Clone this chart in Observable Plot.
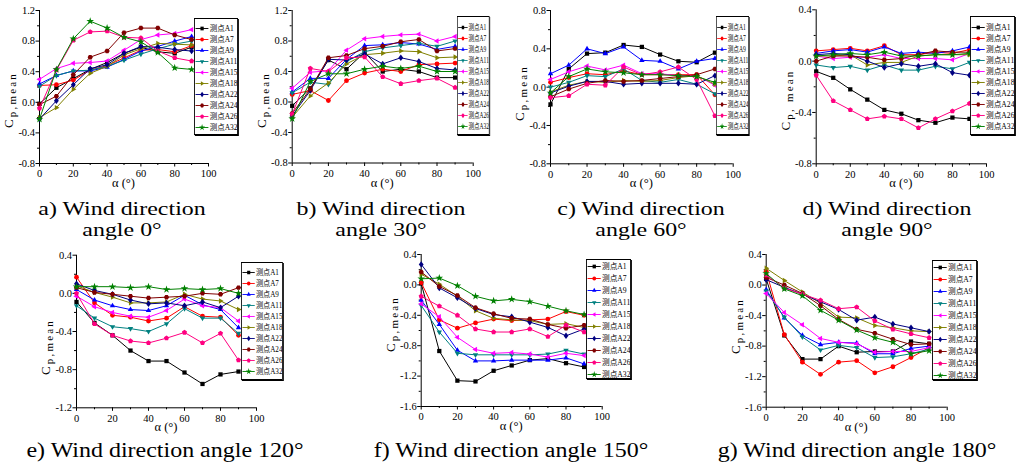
<!DOCTYPE html>
<html><head><meta charset="utf-8">
<script src="https://cdn.jsdelivr.net/npm/d3@7"></script>
<script src="https://cdn.jsdelivr.net/npm/@observablehq/plot@0.6"></script>
<style>
html,body{margin:0;padding:0;background:#fff;}
#root{position:relative;width:1019px;height:466px;overflow:hidden;background:#fff;}
.pane{position:absolute;}
.pane svg{display:block;overflow:visible;}
.lg{position:absolute;box-sizing:border-box;width:50px;border:1px solid #000;background:#fff;box-shadow:1px 1px 0 #000;transform-origin:0 0;}
.lg svg{display:block;}
#caps{position:absolute;left:0;top:0;}
</style></head><body><div id="root"></div>
<script>
// ---------- data ----------
const alpha = [0, 10, 20, 30, 40, 50, 60, 70, 80, 90];
const series = ["测点A1","测点A7","测点A9","测点A11","测点A15","测点A18","测点A22","测点A24","测点A26","测点A32"];
const colors = ["#000000","#ff0000","#0000ff","#008080","#ff00ff","#808000","#000080","#800000","#ff0080","#008000"];

// rows follow the order of `series`; columns follow `alpha`
const dir0 = [
  [-0.02,0.19,0.31,0.43,0.52,0.64,0.72,0.66,0.64,0.72],
  [0.22,0.23,0.29,0.42,0.48,0.58,0.68,0.69,0.66,0.74],
  [0.24,0.35,0.41,0.41,0.46,0.56,0.67,0.73,0.80,0.86],
  [0.21,0.35,0.41,0.42,0.47,0.55,0.63,0.70,0.76,0.80],
  [0.30,0.44,0.51,0.52,0.54,0.68,0.82,0.88,0.90,0.95],
  [-0.20,-0.07,0.17,0.38,0.47,0.62,0.70,0.77,0.76,0.75],
  [-0.22,0.02,0.23,0.44,0.49,0.64,0.73,0.72,0.69,0.67],
  [-0.03,0.08,0.36,0.59,0.67,0.91,0.97,0.97,0.88,0.82],
  [-0.08,0.42,0.81,0.92,0.93,0.85,0.84,0.67,0.58,0.54],
  [-0.22,0.43,0.83,1.06,0.97,0.85,0.79,0.65,0.45,0.43]
];
const dir30 = [
  [-0.05,0.18,0.55,0.43,0.65,0.40,0.43,0.40,0.32,0.32],
  [0.10,0.15,0.02,0.28,0.38,0.43,0.40,0.49,0.50,0.51],
  [0.13,0.31,0.31,0.56,0.74,0.75,0.78,0.76,0.69,0.73],
  [0.12,0.26,0.23,0.53,0.66,0.71,0.74,0.77,0.73,0.80],
  [0.18,0.39,0.41,0.68,0.83,0.86,0.88,0.89,0.80,0.86],
  [-0.20,0.08,0.25,0.50,0.62,0.64,0.67,0.66,0.58,0.59],
  [-0.18,0.15,0.56,0.55,0.63,0.50,0.58,0.53,0.44,0.42],
  [-0.15,0.17,0.58,0.61,0.70,0.73,0.79,0.82,0.67,0.70],
  [-0.16,0.44,0.40,0.58,0.59,0.33,0.24,0.28,0.31,0.19],
  [-0.22,0.27,0.37,0.37,0.43,0.47,0.44,0.47,0.40,0.40]
];
const dir60 = [
  [-0.18,0.19,0.35,0.36,0.44,0.42,0.34,0.27,0.26,0.36],
  [0.05,0.10,0.14,0.13,0.17,0.13,0.13,0.13,0.13,-0.08],
  [0.14,0.23,0.40,0.35,0.42,0.28,0.27,0.19,0.27,0.30],
  [0.00,0.05,0.12,0.11,0.19,0.07,0.05,0.08,0.03,-0.07],
  [0.08,0.16,0.22,0.18,0.23,0.14,0.14,0.12,0.12,0.02],
  [-0.05,0.02,0.06,0.05,0.07,0.06,0.07,0.10,0.12,0.03],
  [-0.06,0.01,0.06,0.06,0.03,0.04,0.04,0.04,0.03,0.12],
  [-0.10,-0.02,0.04,0.07,0.06,0.07,0.09,0.11,0.13,0.19],
  [-0.11,-0.09,0.03,0.02,0.21,0.13,0.16,0.21,0.08,-0.30],
  [-0.06,0.11,0.19,0.16,0.15,0.13,0.13,0.12,0.11,0.05]
];
const dir90 = [
  [-0.08,-0.13,-0.22,-0.30,-0.38,-0.41,-0.46,-0.48,-0.44,-0.45],
  [0.08,0.09,0.10,0.08,0.12,0.05,0.05,0.07,0.06,0.09],
  [0.06,0.08,0.09,0.07,0.11,0.06,0.07,0.06,0.08,0.11],
  [-0.03,-0.05,-0.04,-0.07,-0.03,-0.07,-0.07,-0.04,-0.06,-0.01],
  [0.04,0.02,0.03,0.03,0.05,0.02,0.02,0.02,0.01,0.06],
  [0.04,0.04,0.05,-0.03,-0.01,-0.01,0.04,0.05,0.05,0.05],
  [0.05,0.06,0.05,0.00,-0.05,-0.02,-0.04,-0.02,-0.09,-0.11],
  [0.00,0.04,0.04,0.03,0.01,0.02,0.05,0.08,0.07,0.07],
  [-0.11,-0.31,-0.38,-0.45,-0.43,-0.45,-0.52,-0.45,-0.39,-0.33],
  [0.04,0.05,0.06,0.05,0.07,0.04,0.04,0.05,0.05,0.06]
];
const dir120 = [
  [-0.09,-0.31,-0.44,-0.60,-0.71,-0.71,-0.83,-0.95,-0.85,-0.82],
  [0.17,-0.10,-0.23,-0.25,-0.29,-0.26,-0.14,-0.24,-0.25,-0.44],
  [0.04,-0.07,-0.13,-0.17,-0.18,-0.13,-0.02,-0.12,-0.17,-0.36],
  [-0.13,-0.26,-0.35,-0.37,-0.40,-0.32,-0.16,-0.26,-0.26,-0.42],
  [-0.03,-0.14,-0.20,-0.24,-0.25,-0.18,-0.06,-0.13,-0.15,-0.29],
  [0.08,0.01,-0.04,-0.10,-0.10,-0.09,-0.01,-0.06,-0.08,-0.17],
  [0.10,0.03,-0.01,-0.07,-0.11,-0.10,-0.13,-0.09,-0.15,-0.03],
  [0.06,0.01,-0.01,-0.03,-0.05,-0.04,-0.03,0.00,-0.01,0.06],
  [0.00,-0.32,-0.44,-0.50,-0.52,-0.47,-0.41,-0.52,-0.42,-0.70],
  [0.07,0.07,0.07,0.06,0.07,0.04,0.05,0.04,0.05,0.00]
];
const dir150 = [
  [0.02,-0.87,-1.26,-1.27,-1.13,-1.06,-0.99,-0.97,-1.03,-1.08],
  [0.03,-0.46,-0.57,-0.50,-0.45,-0.47,-0.46,-0.45,-0.35,-0.40],
  [-0.20,-0.52,-0.86,-1.00,-1.00,-0.99,-0.99,-0.99,-0.96,-1.04],
  [-0.27,-0.62,-0.90,-0.92,-0.92,-0.92,-0.92,-0.91,-0.86,-0.91],
  [-0.25,-0.42,-0.69,-0.85,-0.90,-0.89,-0.91,-0.95,-0.90,-0.93],
  [0.14,0.01,-0.15,-0.34,-0.44,-0.46,-0.47,-0.52,-0.51,-0.56],
  [0.27,-0.04,-0.17,-0.31,-0.39,-0.42,-0.49,-0.56,-0.67,-0.58],
  [0.17,-0.02,-0.14,-0.30,-0.38,-0.44,-0.45,-0.52,-0.57,-0.53],
  [-0.15,-0.28,-0.40,-0.58,-0.62,-0.62,-0.58,-0.68,-0.53,-0.62],
  [0.08,0.09,-0.01,-0.15,-0.21,-0.19,-0.22,-0.28,-0.34,-0.39]
];
const dir180 = [
  [0.08,-0.66,-0.97,-0.97,-0.80,-0.88,-0.87,-0.87,-0.74,-0.77],
  [0.18,-0.65,-1.01,-1.17,-1.01,-0.99,-1.15,-1.07,-0.95,-0.82],
  [-0.06,-0.43,-0.66,-0.78,-0.75,-0.76,-0.90,-0.90,-0.83,-0.80],
  [-0.08,-0.42,-0.68,-0.85,-0.79,-0.82,-0.95,-0.94,-0.90,-0.84],
  [-0.11,-0.36,-0.52,-0.70,-0.75,-0.77,-0.88,-0.87,-0.87,-0.82],
  [0.22,0.06,-0.09,-0.24,-0.42,-0.43,-0.53,-0.56,-0.60,-0.61],
  [0.07,-0.03,-0.12,-0.22,-0.32,-0.46,-0.42,-0.51,-0.56,-0.61],
  [0.10,0.00,-0.11,-0.27,-0.45,-0.58,-0.63,-0.71,-0.78,-0.77],
  [0.13,-0.04,-0.12,-0.20,-0.31,-0.29,-0.47,-0.58,-0.64,-0.69],
  [0.15,-0.05,-0.14,-0.33,-0.46,-0.59,-0.69,-0.75,-0.90,-0.86]
];
const xTicks = [0, 20, 40, 60, 80, 100];
const xMinor = [10, 30, 50, 70, 90];
const topCaptions = [["a) Wind direction","angle 0°"],["b) Wind direction","angle 30°"],["c) Wind direction","angle 60°"],["d) Wind direction","angle 90°"]];
const bottomCaptions = ["e) Wind direction angle 120°","f) Wind direction angle 150°","g) Wind direction angle 180°"];

// ---------- symbols ----------
function poly(pts, k) {
  return {draw(ctx, size) {
    const r = Math.sqrt(size / Math.PI) * k;
    pts.forEach(([a, b], i) => i ? ctx.lineTo(a * r, b * r) : ctx.moveTo(a * r, b * r));
    ctx.closePath();
  }};
}
const ngon = (n, rot) => d3.range(n).map(i => [Math.cos(rot + 2 * Math.PI * i / n), Math.sin(rot + 2 * Math.PI * i / n)]);
const symbols = [
  d3.symbolSquare,
  d3.symbolCircle,
  poly([[0,-1],[0.866,0.5],[-0.866,0.5]], 1.3),
  poly([[0,1],[0.866,-0.5],[-0.866,-0.5]], 1.3),
  poly([[-1,0],[0.5,-0.866],[0.5,0.866]], 1.3),
  poly([[1,0],[-0.5,-0.866],[-0.5,0.866]], 1.3),
  poly([[0,-1],[0.75,0],[0,1],[-0.75,0]], 1.35),
  poly(ngon(6, 0), 1.08),
  poly(ngon(5, -Math.PI / 2), 1.12),
  d3.symbolStar
];

// ---------- layout ----------
const panels = [
  {data: dir0,   y: [-0.8, 1.2], box: [0, 0, 250, 190],     m: [10, 42, 27, 39],     sub: "p,mean",  ly: 100, lg: [193.5, 18, 44, 117]},
  {data: dir30,  y: [-0.8, 1.2], box: [250, 0, 260, 190],   m: [10, 37.3, 27.5, 41.7], sub: "p,mean", ly: 100, lg: [457, 16, 32.5, 119]},
  {data: dir60,  y: [-0.8, 0.8], box: [510, 0, 255, 190],   m: [10, 32.3, 26.7, 40], sub: "p,mean",  ly: 93,  lg: [716, 16, 33, 119]},
  {data: dir90,  y: [-0.8, 0.4], box: [765, 0, 254, 190],   m: [9.3, 33, 26.7, 50.7], sub: "p, mean", ly: 100, lg: [970, 15.7, 45, 119.3]},
  {data: dir120, y: [-1.2, 0.4], box: [0, 240, 300, 195],   m: [14.7, 44, 27.7, 76], sub: "p,mean",  ly: 347, lg: [241, 261.7, 42, 118.3]},
  {data: dir150, y: [-1.6, 0.4], box: [370, 240, 290, 195], m: [14, 58.3, 29, 50.7], sub: "p,mean",  ly: 324, lg: [586, 259.3, 45, 120]},
  {data: dir180, y: [-1.6, 0.4], box: [720, 240, 299, 195], m: [14, 72.3, 28.3, 45.7], sub: "p,mean", ly: 326, lg: [931.7, 260, 45, 120]}
];
const topCapX = [122, 381, 641, 887];
const bottomCapX = [165, 511, 857];

const root = document.getElementById("root");
const FONT = "'Liberation Serif','Times New Roman',serif";
const fmt = d => d.toFixed(1);

function makePanel(p) {
  const [left, top, W, H] = p.box;
  const [mT, mR, mB, mL] = p.m;
  const [y0, y1] = p.y;
  const n = Math.round((y1 - y0) / 0.4);
  const major = d3.range(n + 1).map(i => +(y0 + 0.4 * i).toFixed(1));
  const minor = d3.range(n).map(i => +(y0 + 0.4 * i + 0.2).toFixed(1));
  const marks = [
    Plot.axisX({ticks: xMinor, tickSize: 2, tickFormat: () => "", label: null}),
    Plot.axisX({ticks: xTicks, tickSize: 3.5, tickPadding: 3, label: null}),
    Plot.axisY({ticks: minor, tickSize: 2, tickFormat: () => "", label: null}),
    Plot.axisY({ticks: major, tickSize: 3.5, tickPadding: 1, tickFormat: fmt, label: null}),
    Plot.ruleX([0], {stroke: "#000", strokeWidth: 1}),
    Plot.ruleY([y0], {stroke: "#000", strokeWidth: 1})
  ];
  series.forEach((s, i) => {
    const rows = alpha.map((a, j) => ({s, a, v: p.data[i][j]}));
    marks.push(Plot.line(rows, {x: "a", y: "v", stroke: "s", strokeWidth: 1}));
    marks.push(Plot.dot(rows, {x: "a", y: "v", fill: "s", symbol: "s", r: 2.4}));
  });
  const svg = Plot.plot({
    width: W, height: H,
    marginTop: mT, marginRight: mR, marginBottom: mB, marginLeft: mL,
    x: {domain: [0, 100]},
    y: {domain: [y0, y1]},
    color: {domain: series, range: colors},
    symbol: {domain: series, range: symbols},
    style: {fontFamily: FONT, fontSize: "10.5px", color: "#000", background: "none", overflow: "visible"},
    marks
  });
  const sel = d3.select(svg);
  // y-axis title
  const t = sel.append("text")
    .attr("transform", `translate(${mL - 26},${p.ly - top}) rotate(-90)`)
    .attr("text-anchor", "middle")
    .attr("fill", "#000")
    .style("font-family", FONT)
    .style("letter-spacing", "2.2px");
  t.append("tspan").attr("font-size", 13).text("C");
  t.append("tspan").attr("font-size", 11).attr("dy", 3).text(p.sub);
  // x-axis title
  sel.append("text")
    .attr("x", mL + (W - mL - mR) / 2)
    .attr("y", H - mB + 24)
    .attr("text-anchor", "middle")
    .attr("fill", "#000")
    .style("font-family", FONT)
    .style("font-size", "12.5px")
    .text("α (°)");
  const div = document.createElement("div");
  div.className = "pane";
  div.style.left = left + "px";
  div.style.top = top + "px";
  div.appendChild(svg);
  root.appendChild(div);
}

function makeLegend(lg) {
  const [left, top, w, h] = lg;
  const inner = h - 2;
  const svg = Plot.plot({
    width: 48, height: inner,
    marginTop: 5.6, marginBottom: 4.4, marginLeft: 0, marginRight: 0,
    x: {domain: [0, 1], axis: null},
    y: {type: "point", domain: series, padding: 0, axis: null},
    color: {domain: series, range: colors},
    symbol: {domain: series, range: symbols},
    style: {background: "none"},
    marks: [
      Plot.ruleY(series, {y: d => d, x1: 0.015, x2: 0.32, stroke: d => d, strokeWidth: 1}),
      Plot.dot(series, {x: 0.16, y: d => d, fill: d => d, symbol: d => d, r: 2.1}),
      Plot.text(series, {x: 0.34, y: d => d, text: d => d, textAnchor: "start", fill: "#000",
        fontSize: 8.5, fontFamily: "'Liberation Serif','Noto Sans CJK SC',serif"})
    ]
  });
  const div = document.createElement("div");
  div.className = "lg";
  div.style.left = left + "px";
  div.style.top = top + "px";
  div.style.height = h + "px";
  div.style.transform = `scaleX(${w / 50})`;
  div.appendChild(svg);
  root.appendChild(div);
}

panels.forEach(p => { makePanel(p); makeLegend(p.lg); });

// captions
const cap = d3.select(root).append("svg").attr("id", "caps").attr("width", 1019).attr("height", 466)
  .style("pointer-events", "none");
function caption(text, x, y, size, sx) {
  cap.append("text")
    .attr("transform", `translate(${x},${y}) scale(${sx},1)`)
    .attr("text-anchor", "middle")
    .attr("fill", "#000")
    .style("font-family", FONT)
    .style("font-size", size + "px")
    .text(text);
}
topCaptions.forEach(([l1, l2], i) => { caption(l1, topCapX[i], 214.5, 19, 1.26); caption(l2, topCapX[i], 236, 19, 1.26); });
bottomCaptions.forEach((l, i) => caption(l, bottomCapX[i], 457, 20.5, 1.17));
</script></body></html>
